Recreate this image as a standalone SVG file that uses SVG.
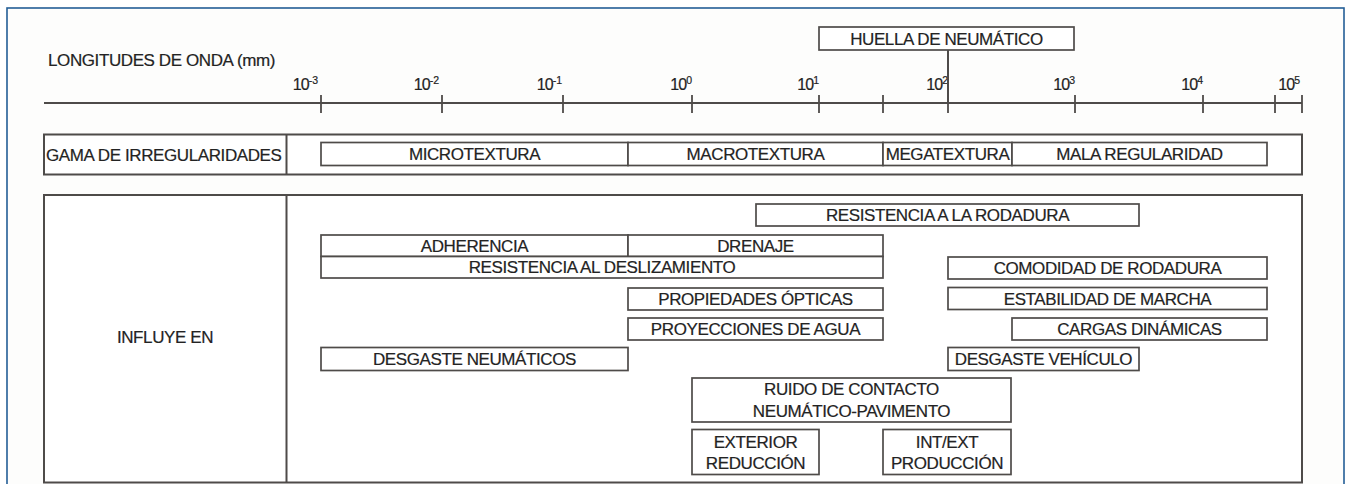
<svg xmlns="http://www.w3.org/2000/svg" width="1348" height="484" viewBox="0 0 1348 484">
<style>
  text { font-family: "Liberation Sans", Arial, sans-serif; font-size: 17px; letter-spacing: -0.4px; fill: #232323; stroke: #232323; stroke-width: 0.2px; }
  .c { text-anchor: middle; }
  .tk { font-size: 16px; letter-spacing: -1px; text-anchor: end; }
  .sup { font-size: 10.5px; letter-spacing: 0; }
  .box { fill: #ffffff; stroke: #4e4b49; stroke-width: 1.7; }
  .outer { fill: #ffffff; stroke: #4e4b49; stroke-width: 2; }
  .ln { stroke: #4e4b49; stroke-width: 2; fill: none; }
  .tick { stroke: #4e4b49; stroke-width: 1.8; }
</style>
<rect x="0" y="0" width="1348" height="484" fill="#ffffff"/>
<rect x="7" y="8" width="1337" height="490" fill="#fdfdfc" stroke="#245e96" stroke-width="1.6"/>

<g id="axis">
  <text x="48" y="66">LONGITUDES DE ONDA (mm)</text>
  <line class="ln" x1="44" y1="103" x2="1302" y2="103"/>
  <g class="tick">
    <line x1="321" y1="95" x2="321" y2="113"/>
    <line x1="442" y1="95" x2="442" y2="113"/>
    <line x1="563" y1="95" x2="563" y2="113"/>
    <line x1="692" y1="95" x2="692" y2="113"/>
    <line x1="819" y1="95" x2="819" y2="113"/>
    <line x1="883" y1="95" x2="883" y2="113"/>
    <line x1="948" y1="95" x2="948" y2="113"/>
    <line x1="1075" y1="95" x2="1075" y2="113"/>
    <line x1="1203" y1="95" x2="1203" y2="113"/>
    <line x1="1275" y1="95" x2="1275" y2="113"/>
    <line x1="1302" y1="95" x2="1302" y2="113"/>
  </g>
  <text class="tk" x="318" y="90">10<tspan class="sup" dy="-6.5">-3</tspan></text>
  <text class="tk" x="439" y="90">10<tspan class="sup" dy="-6.5">-2</tspan></text>
  <text class="tk" x="562" y="90">10<tspan class="sup" dy="-6.5">-1</tspan></text>
  <text class="tk" x="692" y="90">10<tspan class="sup" dy="-6.5">0</tspan></text>
  <text class="tk" x="819" y="90">10<tspan class="sup" dy="-6.5">1</tspan></text>
  <text class="tk" x="948" y="90">10<tspan class="sup" dy="-6.5">2</tspan></text>
  <text class="tk" x="1075" y="90">10<tspan class="sup" dy="-6.5">3</tspan></text>
  <text class="tk" x="1203" y="90">10<tspan class="sup" dy="-6.5">4</tspan></text>
  <text class="tk" x="1300" y="90">10<tspan class="sup" dy="-6.5">5</tspan></text>
</g>

<g id="connectors">
  <line class="ln" x1="948" y1="50" x2="948" y2="103" stroke-width="1.6"/>
</g>

<g id="huella">
  <rect class="box" x="819" y="27" width="255" height="23"/>
  <text class="c" x="946.5" y="44.8">HUELLA DE NEUMÁTICO</text>
</g>

<g id="gama">
  <rect class="outer" x="44" y="134.5" width="1258" height="40"/>
  <line class="ln" x1="286.5" y1="134.5" x2="286.5" y2="174.5"/>
  <text x="46" y="161">GAMA DE IRREGULARIDADES</text>
</g>
<g id="microtextura">
  <rect class="box" x="321" y="142.5" width="307" height="23"/>
  <text class="c" x="474.5" y="160.3">MICROTEXTURA</text>
</g>
<g id="macrotextura">
  <rect class="box" x="628" y="142.5" width="255" height="23"/>
  <text class="c" x="755.5" y="160.3">MACROTEXTURA</text>
</g>
<g id="megatextura">
  <rect class="box" x="883" y="142.5" width="129" height="23"/>
  <text class="c" x="947.5" y="160.3">MEGATEXTURA</text>
</g>
<g id="mala-regularidad">
  <rect class="box" x="1012" y="142.5" width="255" height="23"/>
  <text class="c" x="1139.5" y="160.3">MALA REGULARIDAD</text>
</g>

<g id="influye">
  <rect class="outer" x="44" y="195" width="1258" height="287.5"/>
  <line class="ln" x1="286.5" y1="195" x2="286.5" y2="482.5"/>
  <text class="c" x="165" y="343">INFLUYE EN</text>
</g>
<g id="resistencia-rodadura">
  <rect class="box" x="756" y="204" width="383" height="22"/>
  <text class="c" x="947.5" y="221">RESISTENCIA A LA RODADURA</text>
</g>
<g id="adherencia">
  <rect class="box" x="321" y="235" width="307" height="21.5"/>
  <text class="c" x="474.5" y="251.8">ADHERENCIA</text>
</g>
<g id="drenaje">
  <rect class="box" x="628" y="235" width="255" height="21.5"/>
  <text class="c" x="755.5" y="251.8">DRENAJE</text>
</g>
<g id="resistencia-deslizamiento">
  <rect class="box" x="321" y="256.5" width="562" height="21.5"/>
  <text class="c" x="602" y="273.3">RESISTENCIA AL DESLIZAMIENTO</text>
</g>
<g id="comodidad">
  <rect class="box" x="948" y="257" width="319" height="22"/>
  <text class="c" x="1107.5" y="274">COMODIDAD DE RODADURA</text>
</g>
<g id="propiedades-opticas">
  <rect class="box" x="628" y="288" width="255" height="22"/>
  <text class="c" x="755.5" y="305">PROPIEDADES ÓPTICAS</text>
</g>
<g id="estabilidad">
  <rect class="box" x="948" y="287.5" width="319" height="22"/>
  <text class="c" x="1107.5" y="304.5">ESTABILIDAD DE MARCHA</text>
</g>
<g id="proyecciones">
  <rect class="box" x="628" y="318" width="255" height="22"/>
  <text class="c" x="755.5" y="335">PROYECCIONES DE AGUA</text>
</g>
<g id="cargas">
  <rect class="box" x="1012" y="318" width="255" height="22"/>
  <text class="c" x="1139.5" y="335">CARGAS DINÁMICAS</text>
</g>
<g id="desgaste-neumaticos">
  <rect class="box" x="321" y="347.5" width="307" height="23"/>
  <text class="c" x="474.5" y="365">DESGASTE NEUMÁTICOS</text>
</g>
<g id="desgaste-vehiculo">
  <rect class="box" x="948" y="347.5" width="191" height="23"/>
  <text class="c" x="1043.5" y="365">DESGASTE VEHÍCULO</text>
</g>
<g id="ruido">
  <rect class="box" x="692" y="378" width="319" height="44"/>
  <text class="c" x="851.5" y="395">RUIDO DE CONTACTO</text>
  <text class="c" x="851.5" y="416.5">NEUMÁTICO-PAVIMENTO</text>
</g>
<g id="exterior">
  <rect class="box" x="692" y="429.5" width="127" height="45"/>
  <text class="c" x="755.5" y="447.5">EXTERIOR</text>
  <text class="c" x="755.5" y="469">REDUCCIÓN</text>
</g>
<g id="int-ext">
  <rect class="box" x="883" y="429.5" width="128" height="45"/>
  <text class="c" x="947" y="447.5">INT/EXT</text>
  <text class="c" x="947" y="469">PRODUCCIÓN</text>
</g>
</svg>
